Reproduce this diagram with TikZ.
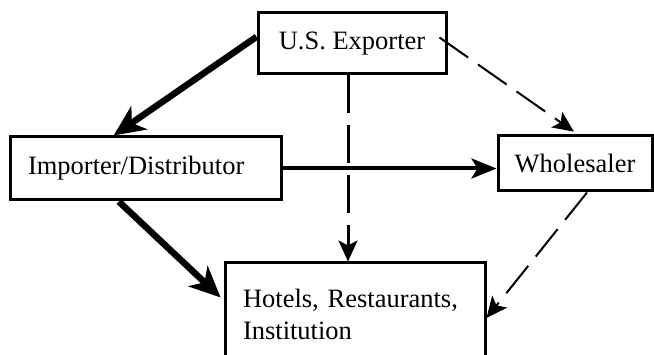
\documentclass[tikz,border=0pt]{standalone}
\usepackage{fontspec}
\setmainfont{Liberation Serif}
\usetikzlibrary{arrows.meta,calc}
\begin{document}
\begin{tikzpicture}[x=1pt,y=1pt,
  box/.style={draw, line width=3pt, inner sep=0pt, font=\fontsize{26.5}{32}\selectfont},
  bigarrow/.style={line width=6.5pt, -{Stealth[length=31pt,width=28pt,inset=9pt]}},
  midarrow/.style={line width=4pt, -{Stealth[length=25pt,width=20pt,inset=6pt]}},
  dashline/.style={line width=2pt, dash pattern=on 35pt off 12pt, -{Stealth[length=21pt,width=19pt,inset=5pt]}}]
\useasboundingbox (0,0) rectangle (654,355);
\node[box, minimum width=188pt, minimum height=61pt] (exporter) at (352,311.5) {U.S. Exporter};
\node[box, minimum width=271pt, minimum height=63pt, text width=235pt, align=left] (importer) at (145.5,186.5) {Importer/Distributor};
\node[box, minimum width=154pt, minimum height=55pt] (wholesaler) at (575,191.5) {Wholesaler};
\node[box, minimum width=260pt, minimum height=102pt, text width=224pt, align=left] (hotels) at (355,41) {Hotels, Restaurants,\\Institution};
\draw[bigarrow] (exporter.176) -- (importer.134);
\draw[bigarrow, shorten >=4pt] (importer.231) -- (hotels.174);
\draw[midarrow] (importer.east) -- (importer.east -| wholesaler.west);
\draw[dashline, shorten >=5pt] ($(exporter.east)+(-8,6)$) -- ([xshift=3pt]wholesaler.north);
\draw[dashline, line width=3pt, dash pattern=on 38pt off 12pt] ([xshift=-4pt]exporter.south) -- ([xshift=-4pt]exporter.south |- hotels.north);
\draw[dashline] ([xshift=12pt]wholesaler.south) -- ([yshift=-4pt]hotels.east);
\end{tikzpicture}
\end{document}
